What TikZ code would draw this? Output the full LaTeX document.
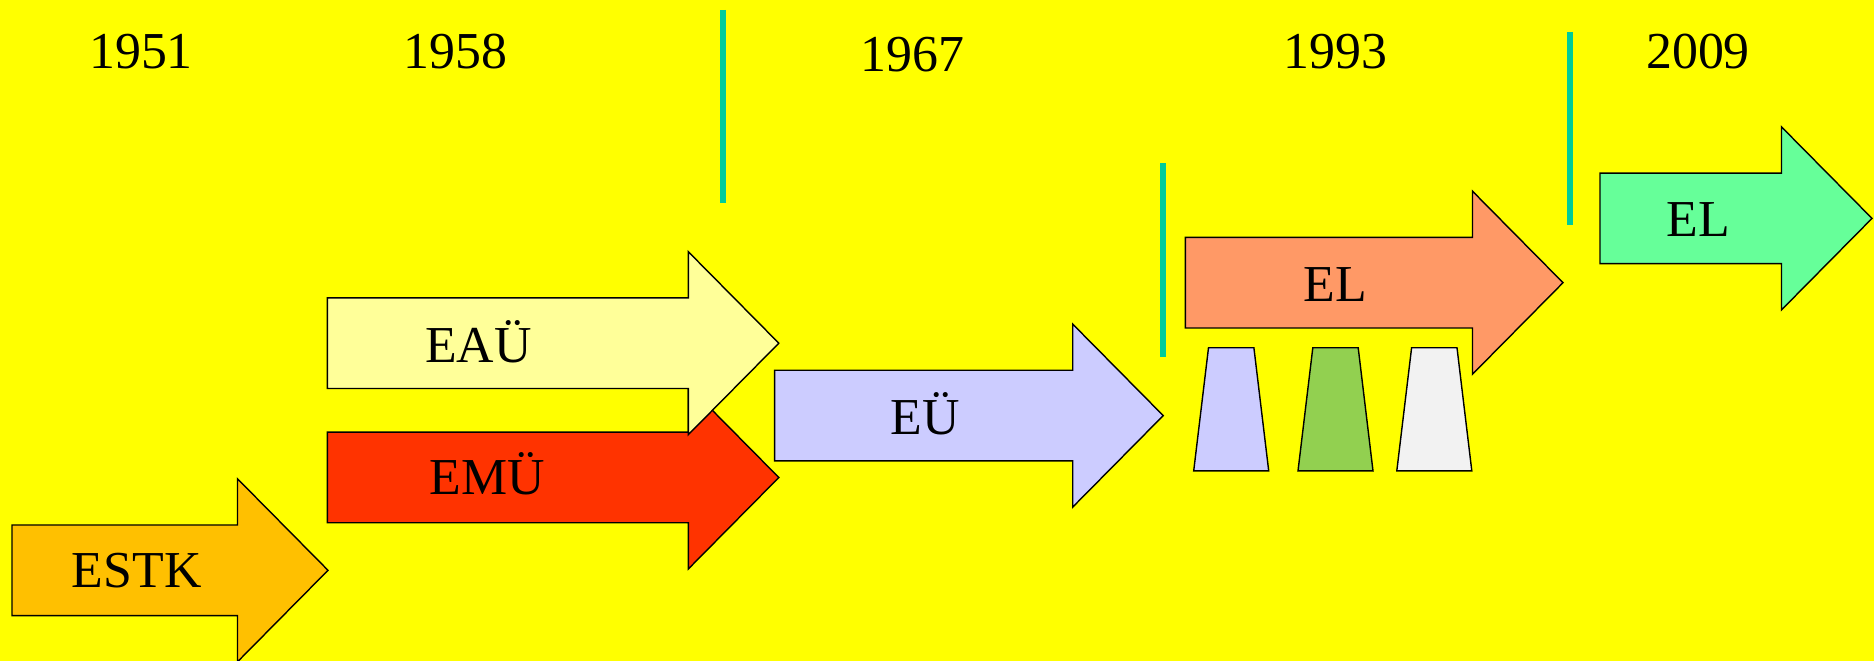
\documentclass[tikz,border=0pt]{standalone}
\usepackage{fontspec}
\setmainfont{Liberation Serif}
\definecolor{bgyellow}{RGB}{255,255,0}
\definecolor{teal}{RGB}{0,204,153}
\definecolor{estk}{RGB}{255,192,0}
\definecolor{eau}{RGB}{255,255,153}
\definecolor{emu}{RGB}{255,51,0}
\definecolor{eu}{RGB}{204,204,255}
\definecolor{elorange}{RGB}{255,153,102}
\definecolor{elgreen}{RGB}{102,255,153}
\definecolor{tpa}{RGB}{204,204,255}
\definecolor{tpb}{RGB}{146,208,80}
\definecolor{tpc}{RGB}{242,242,242}
% block arrow: left end, tip, middle height, colour
\newcommand{\tlarrow}[4]{
  \draw[outline, fill=#4] (#1,{#3-45.3}) -- ({#2-90.5},{#3-45.3}) -- ({#2-90.5},{#3-91.5})
    -- (#2,#3) -- ({#2-90.5},{#3+91.5}) -- ({#2-90.5},{#3+45.3}) -- (#1,{#3+45.3}) -- cycle;
}
\tikzset{
  outline/.style={draw=black, line width=0.8pt, line join=miter},
  era/.style={teal, line width=3.4pt},
  label/.style={anchor=base, inner sep=0pt, font=\fontsize{29.5}{35}\selectfont}
}
\begin{document}
\begin{tikzpicture}[x=0.02cm, y=-0.02cm]
\useasboundingbox (0,0) rectangle (1874,661);
\fill[bgyellow] (0,0) rectangle (1874,661);
% the years along the top
\foreach \yr/\x/\y in {1951/141/68.7, 1958/455.5/68.7, 1967/912.5/71.7, 1993/1335.5/68.5, 2009/1698/68.5}
{
  \node[label] (y\yr) at (\x,\y) {\yr};
}
% lines between the periods
\draw[era] (723,10) -- (723,203.3);
\draw[era] (1163,163.3) -- (1163,356.7);
\draw[era] (1570,32) -- (1570,225.5);
% the arrows, back to front
\tlarrow{12}{328}{570.3}{estk}
\tlarrow{327.3}{778.8}{477.5}{emu}
\tlarrow{327.3}{778.8}{343.2}{eau}
\tlarrow{774.6}{1163.2}{415.6}{eu}
\tlarrow{1185.4}{1563}{282.7}{elorange}
% the three pillars under the EL arrow
\foreach \x/\c in {1193.7/tpa, 1298/tpb, 1396.8/tpc}
{
  \draw[outline, fill=\c] (\x,470.9) -- ({\x+75},470.9) -- ({\x+60.2},347.8) -- ({\x+14.8},347.8) -- cycle;
}
\tlarrow{1600}{1872}{218.4}{elgreen}
% names on the arrows
\node[label] (estk) at (136.7,588) {ESTK};
\node[label] (emu) at (487,494.5) {EMÜ};
\node[label] (eau) at (478.5,362.6) {EAÜ};
\node[label] (eu) at (925,434.5) {EÜ};
\node[label] (elo) at (1335.5,301.4) {EL};
\node[label] (elg) at (1698.5,237) {EL};
\end{tikzpicture}
\end{document}
